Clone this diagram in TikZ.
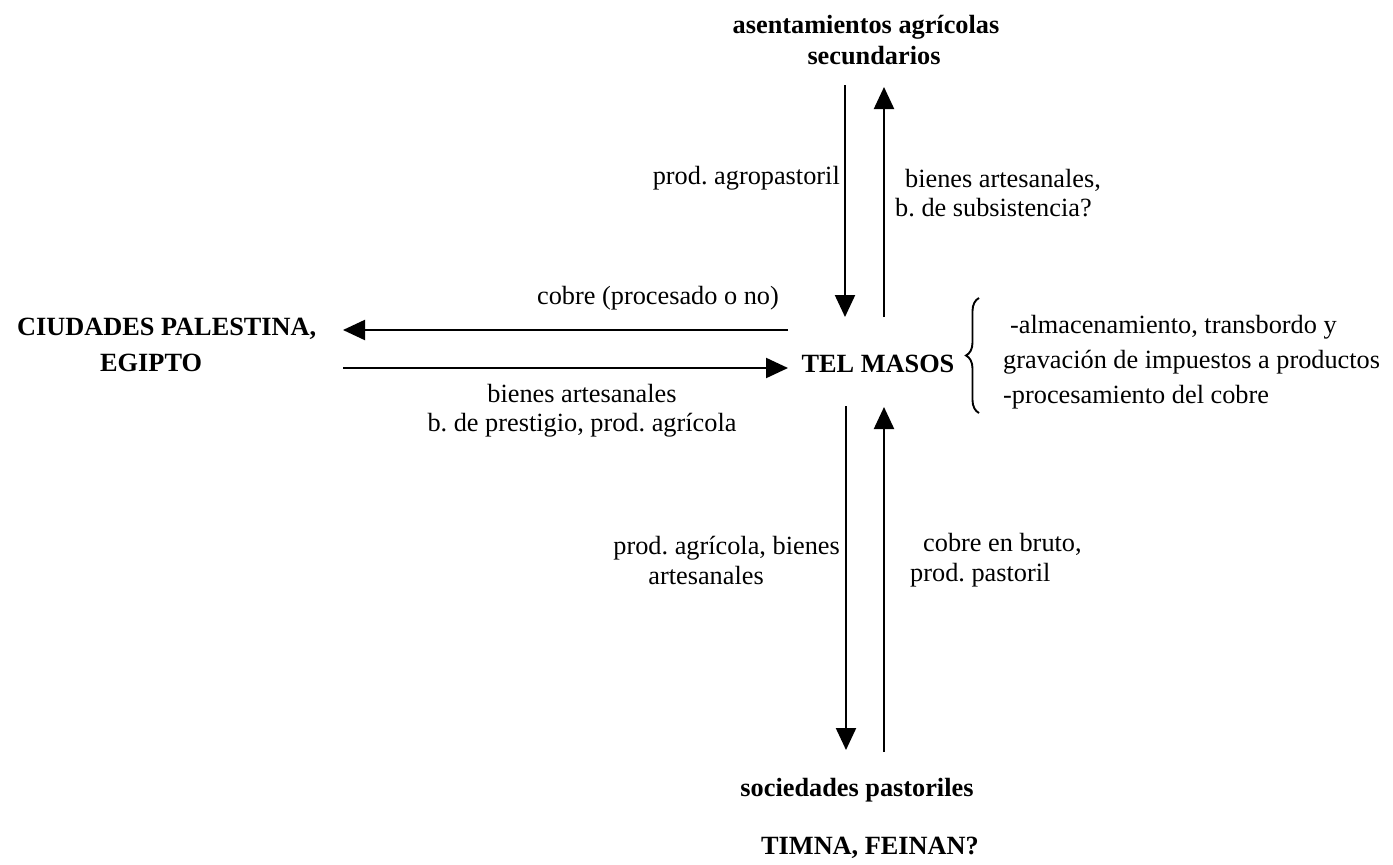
\documentclass[tikz,border=0pt]{standalone}
\usepackage{fontspec}
\setmainfont{Liberation Serif}
\usetikzlibrary{arrows.meta,decorations.pathreplacing}
\begin{document}
\frenchspacing
\begin{tikzpicture}[x=1pt,y=-1pt,
  lbl/.style={font=\fontsize{26.3}{30}\selectfont, inner sep=0pt, align=center},
  hd/.style={font=\fontsize{26.3}{31}\selectfont\bfseries, inner sep=0pt, align=center},
  flow/.style={line width=2.2pt, -{Triangle[length=22pt,width=20pt]}},
  bracestyle/.style={line width=1.9pt, decorate, decoration={brace, amplitude=13pt}},
]
\useasboundingbox (0,0) rectangle (1393,865);
% places
\node[hd] (top) at (866,40) {asentamientos agrícolas\\\hspace*{16pt}secundarios};
\node[hd, anchor=west, align=left, font=\fontsize{26.3}{36}\selectfont\bfseries] (ciud) at (17,345) {CIUDADES PALESTINA,\\\hspace*{83pt}EGIPTO};
\node[hd] (tel) at (878,364) {TEL MASOS};
\node[hd] (soc) at (857,790) {sociedades pastoriles};
\node[hd] (timna) at (870,848) {TIMNA, FEINAN?};
% end points of the flows
\coordinate (tdA) at (845,85);  \coordinate (tdB) at (845,317);
\coordinate (tuA) at (884,317); \coordinate (tuB) at (884,87);
\coordinate (lA) at (788,330);  \coordinate (lB) at (343,330);
\coordinate (rA) at (343,368);  \coordinate (rB) at (788,368);
\coordinate (bdA) at (846,406); \coordinate (bdB) at (846,750);
\coordinate (buA) at (884,752); \coordinate (buB) at (884,407);
\coordinate (brB) at (979,413); \coordinate (brT) at (979,298);
% flows
\draw[flow] (tdA) -- (tdB);
\draw[flow] (tuA) -- (tuB);
\draw[flow] (lA) -- (lB);
\draw[flow] (rA) -- (rB);
\draw[flow] (bdA) -- (bdB);
\draw[flow] (buA) -- (buB);
% brace
\draw[bracestyle] (brB) -- (brT);
% labels
\node[lbl, anchor=east] (l1) at (840,178) {prod. agropastoril};
\node[lbl, anchor=west, align=left, font=\fontsize{26.3}{29}\selectfont] (l2) at (895,193) {\hspace*{10pt}bienes artesanales,\\b. de subsistencia?};
\node[lbl] (l3) at (658,298) {cobre (procesado o no)};
\node[lbl, font=\fontsize{26.3}{29}\selectfont] (l4) at (582,411) {bienes artesanales\\b. de prestigio, prod. agrícola};
\node[lbl, anchor=west, align=left, font=\fontsize{26.3}{35}\selectfont] (l5) at (1003,362) {\hspace*{7pt}-almacenamiento, transbordo y\\gravación de impuestos a productos\\-procesamiento del cobre};
\node[lbl, anchor=east, align=left] (l6) at (840,560) {prod. agrícola, bienes\\\hspace*{35pt}artesanales};
\node[lbl, anchor=west, align=left] (l7) at (910,560) {\hspace*{13pt}cobre en bruto,\\prod. pastoril};
\end{tikzpicture}
\end{document}
